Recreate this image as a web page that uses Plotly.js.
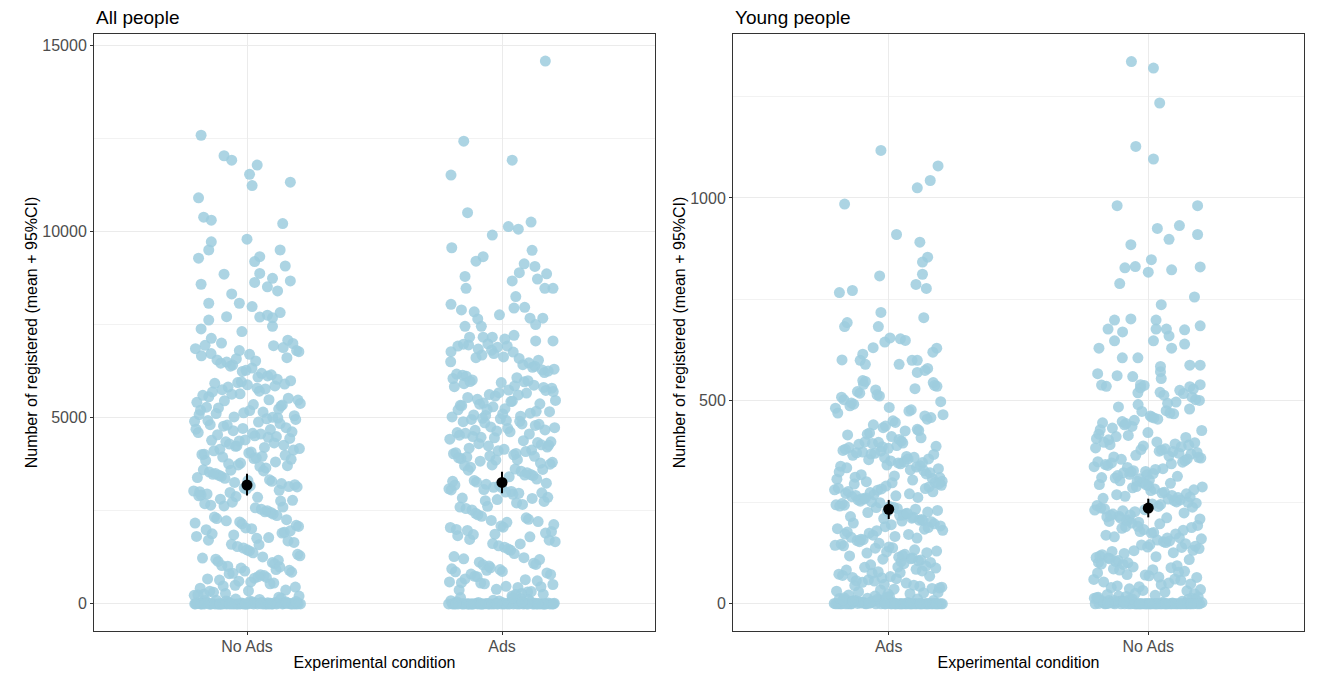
<!DOCTYPE html>
<html>
<head>
<meta charset="utf-8">
<script src="https://cdn.plot.ly/plotly-3.0.1.min.js"></script>
<style>html,body{margin:0;padding:0;background:#fff;}#chart{width:1317px;height:673px;}</style>
</head>
<body>
<div id="chart"></div>
<script>
// ---------- categories ----------
const catsAll = ['No Ads', 'Ads'];
const catsYoung = ['Ads', 'No Ads'];
const panelTitles = ['All people', 'Young people'];
const xTitle = 'Experimental condition';
const yTitle = 'Number of registered (mean + 95%CI)';

// ---------- All people, No Ads ----------
const allNoAdsHigh = [12580,12030,11910,11780,11530,11230,11320,10900,10380,10300,10210,9790,9720,9500,9500,9280,9190,9320,9070,8850,8870,8740,8670,8630,8580,8510,8400,8320,8070,8070,7980,7820,7710,7620,7700,7750,7680,7380,7310,7450,7130,7080,7000,6800,6700];
const allNoAdsHighJit = [-0.18,-0.09,-0.06,0.04,0.01,0.02,0.17,-0.19,-0.17,-0.14,0.14,0.00,-0.14,-0.15,0.13,-0.19,0.03,0.05,0.15,-0.09,0.05,0.10,0.17,0.03,-0.18,0.08,0.12,-0.06,-0.15,-0.03,0.02,0.13,-0.08,-0.15,0.05,0.08,0.10,-0.18,-0.02,0.10,-0.14,0.16,-0.10,-0.03,0.01];
const allNoAdsRest = [
6930,6410,6770,6090,6550,6880,6240,6660,6120,6490,6990,6330,6720,6030,6580,6850,6190,6460,6610,6270,6940,6150,6380,6800,6520,
5920,5310,5640,5080,5770,5450,5990,5190,5560,5850,5020,5380,5710,5260,5900,5130,5600,5480,5820,5050,5350,5690,5230,5940,5410,5150,5750,5520,5880,5280,5010,5630,5470,5790,5110,5340,5960,5200,
4970,4350,4620,4080,4810,4490,4230,4900,4560,4150,4730,4400,4020,4680,4290,4950,4510,4110,4840,4370,4600,4200,4770,4440,4050,4920,4320,4650,4170,4880,4540,4260,4710,4010,4470,4800,4130,4580,4390,4990,4240,4690,
3960,3420,3710,3080,3850,3290,3590,3140,3920,3500,3230,3780,3010,3650,3370,3880,3170,3540,3810,3260,3030,3690,3450,3990,3110,3600,3330,3760,3200,3900,3480,3050,3730,3390,3570,3940,3150,3310,
2950,2410,2730,2080,2860,2290,2600,2150,2920,2500,2230,2780,2020,2650,2370,2880,2170,2540,2810,2260,2040,2690,2450,2990,2110,2580,2330,2760,2200,2900,2470,2630,
1960,1420,1710,1080,1850,1290,1590,1140,1920,1500,1230,1780,1010,1650,1370,1880,1170,1540,1810,1260,1030,1690,1450,1990,1110,1600,1330,1760,1200,1900,
960,420,710,280,850,590,340,920,500,230,780,640,370,880,260,540,810,450,690,310,990,610,240,760,480,900,350,670,560,820,210,730,
0,12,5,0,30,0,8,60,0,15,0,3,45,0,20,0,90,0,7,0,25,0,150,0,10,0,2,0,70,0,35,0,0,120,0,18,0,4,0,55,0,0,9,180,0,28,0,0,14,0,40,0,0,6,0,100,0,22,0,0,80,0,11,0,0,130,0,1,0,50,0,0,16,0,65];

// ---------- All people, Ads ----------
const allAdsHigh = [14570,12420,11910,11510,10500,10130,10060,10250,9900,9560,9490,9200,9320,9130,9060,8790,8670,8860,8890,8720,8470,8470,8470,8250,8040,7940,7960,7890,7840,7650,7760,7670,7670,7500,7450,7450,7160,7160,7160,6770,6920,6970,7210,7110,7060,7060];
const allAdsHighJit = [0.17,-0.15,0.04,-0.20,-0.135,0.025,0.064,0.114,-0.038,-0.197,0.118,-0.102,-0.074,0.087,0.129,-0.145,0.04,0.175,0.068,0.139,0.168,0.20,-0.141,0.054,-0.20,0.047,0.089,-0.159,-0.109,-0.095,-0.01,0.16,0.11,0.132,-0.145,-0.081,-0.127,-0.074,-0.038,-0.20,-0.173,-0.151,0.047,0.011,0.132,0.20];
const allAdsRest = [
6950,6380,6720,6050,6590,6840,6210,6630,6140,6470,6980,6300,6760,6010,6540,6890,6170,6420,6680,6250,6920,6110,6350,6810,6500,6070,6610,6280,
5940,5330,5660,5060,5790,5430,5970,5170,5580,5830,5040,5360,5730,5240,5910,5120,5620,5460,5850,5070,5370,5670,5210,5960,5390,5160,5740,5540,5870,5290,5020,5610,5490,5810,5100,5320,5990,5220,5700,5440,
4950,4330,4640,4060,4830,4470,4210,4920,4580,4130,4750,4420,4040,4660,4270,4970,4530,4090,4860,4350,4620,4180,4790,4460,4030,4900,4300,4670,4150,4890,4560,4240,4730,4000,4490,4820,4110,4600,4380,4980,4260,4710,
3940,3440,3730,3060,3870,3270,3610,3120,3900,3520,3210,3800,3020,3670,3350,3860,3190,3560,3830,3240,3000,3710,3470,3970,3090,3620,3310,3780,3180,3920,3460,3070,3750,3410,3590,3960,3130,3290,
2970,2390,2750,2060,2840,2270,2620,2130,2940,2520,2210,2800,2000,2670,2350,2860,2190,2560,2830,2240,2050,2710,2430,2980,2090,2600,2310,2770,
1940,1440,1730,1060,1870,1270,1610,1120,1900,1520,1210,1800,1020,1670,1350,1860,1190,1560,1830,1240,1050,1710,1470,1970,1090,1620,
940,440,730,260,870,570,320,900,520,210,800,620,390,860,280,560,830,470,670,330,970,590,250,740,460,920,370,650,540,790,
0,0,14,0,6,0,40,0,0,2,110,0,19,0,0,8,0,60,0,0,25,0,3,0,0,85,0,12,0,0,170,0,5,0,33,0,0,9,0,140,0,0,1,0,48,0,0,17,0,0,75,0,4,0,0,22,0,0,95,0,7,0,0,30,0,0,11,0,160,0,0,2,0,52,0];

// ---------- Young people, Ads ----------
const youngAdsHigh = [1117,1079,1043,1025,985,910,891,854,842,812,808,787,777,767,772,718,705,683,693,683,631,645,655,653,649,630,620,601,600,615,590,590,600,600,580,575,570,550,548];
const youngAdsHighJit = [-0.03,0.19,0.16,0.11,-0.17,0.03,0.12,0.15,0.13,0.13,-0.035,0.105,0.145,-0.19,-0.14,-0.03,0.135,-0.17,-0.16,-0.04,-0.06,-0.015,0.005,0.045,0.064,0.185,0.17,-0.18,-0.11,-0.10,-0.09,0.04,0.09,0.11,0.15,0.14,0.11,-0.10,-0.09];
const youngAdsRest = [
545,412,488,430,527,466,401,519,455,438,503,478,421,536,447,492,409,512,470,426,541,459,484,416,530,441,498,405,523,463,434,509,475,418,538,451,495,427,515,482,
396,318,357,342,381,305,369,333,390,312,348,376,325,363,399,309,352,385,337,371,302,345,393,320,360,378,330,355,388,315,366,340,398,307,350,374,323,383,335,361,395,311,347,372,328,387,339,357,301,368,
298,215,262,237,281,204,253,226,290,243,211,274,230,266,295,208,249,285,222,258,202,240,277,233,269,292,218,256,284,210,247,271,225,299,238,264,206,280,244,219,259,288,228,272,213,251,296,235,267,205,283,241,223,261,276,
195,118,162,137,181,104,153,126,190,143,111,174,130,166,199,108,149,185,122,158,102,140,177,133,169,192,115,156,184,110,147,171,125,197,138,164,106,180,144,119,159,188,128,172,113,
96,28,62,45,81,34,73,51,90,38,67,22,85,56,41,77,30,93,48,70,25,59,88,36,65,43,79,31,99,53,68,24,83,46,75,39,91,57,27,64,
0,3,0,8,0,0,12,0,1,0,5,0,0,15,0,2,0,0,7,0,10,0,0,4,0,18,0,0,6,0,0,1,0,9,0,0,14,0,3,0,0,11,0,0,2,0,16,0,0,5,0,0,8,0,0,13,0,1,0,0,6,0,19,0,0,4,0,0,10,0,2,0,0,7,0];

// ---------- Young people, No Ads ----------
const youngNoAdsHigh = [1336,1320,1234,1127,1096,981,981,925,932,910,898,885,828,831,848,817,823,830,789,756,737,699,702,677,670,699,677,677,660,675,685,648,648,640,630,630,606,606,585,572,555,588,588,567,539,562,560,540,520,535,540];
const youngNoAdsHighJit = [-0.065,0.02,0.044,-0.048,0.02,-0.12,0.19,0.035,0.12,0.19,0.08,-0.067,-0.09,-0.05,0.012,0.0,0.09,0.20,-0.11,0.178,0.05,-0.13,-0.067,-0.155,-0.099,0.03,0.03,0.07,0.08,0.14,0.20,-0.13,0.02,0.14,0.09,-0.19,-0.10,-0.04,0.047,0.047,0.05,0.16,0.20,-0.195,-0.18,-0.12,-0.06,-0.03,-0.04,0.16,0.20];
const youngNoAdsRest = [
532,418,476,441,509,463,404,497,452,427,521,485,410,538,446,470,415,503,458,433,526,491,407,514,449,480,422,536,468,437,501,455,412,518,474,429,494,444,529,460,
392,314,366,338,379,303,357,326,398,345,319,373,331,362,387,308,350,382,323,369,305,341,394,328,359,376,316,353,389,311,364,336,397,321,347,371,302,384,333,356,391,318,343,375,325,361,399,310,349,380,
294,212,265,238,279,203,251,227,288,245,216,271,232,260,297,207,248,283,221,256,201,242,275,229,263,291,214,254,286,209,240,269,224,299,236,258,205,281,246,218,262,289,231,273,211,250,293,234,267,219,
193,116,165,139,178,102,151,124,188,146,113,172,131,160,197,107,148,183,121,155,101,142,176,129,163,191,114,153,186,109,140,169,126,199,136,157,104,181,145,118,162,190,132,174,111,
94,26,60,47,83,32,71,54,89,37,65,21,86,58,42,76,29,97,49,69,23,61,91,35,66,44,80,33,98,51,72,25,84,40,78,
0,0,4,0,11,0,0,2,0,17,0,0,6,0,1,0,0,13,0,8,0,0,3,0,19,0,0,5,0,0,10,0,2,0,0,15,0,7,0,0,1,0,12,0,0,4,0,0,9,0,18,0,0,3,0,0,14,0,6,0,0,2,0,11,0,0,8,0,0,16,0,5,0,0,1];

// ---------- means and 95% CI ----------
const allMeans = [3190, 3260];
const allCILow = [2910, 2970];
const allCIHigh = [3490, 3550];
const youngMeans = [233, 236];
const youngCILow = [209, 213];
const youngCIHigh = [256, 259];

// ---------- build traces ----------
function spread(i, seed) { // deterministic jitter for the dense points (layout only)
  return (((i + 1) * 0.6180339887 + seed) % 1) * 0.42 - 0.21;
}
function groupTrace(pos, high, highJit, rest, seed, xa, ya) {
  const xs = [], ys = [];
  rest.forEach((v, i) => { xs.push(pos + spread(i, seed)); ys.push(v); });
  high.forEach((v, i) => { xs.push(pos + highJit[i]); ys.push(v); });
  return {
    type: 'scatter', mode: 'markers', x: xs, y: ys, xaxis: xa, yaxis: ya,
    marker: { color: 'rgba(158,204,222,0.85)', size: 11, line: { width: 0 } },
    hoverinfo: 'skip', showlegend: false
  };
}
function meanTrace(means, lo, hi, xa, ya) {
  return {
    type: 'scatter', mode: 'markers', x: [1, 2], y: means, xaxis: xa, yaxis: ya,
    marker: { color: '#000', size: 11 },
    error_y: { type: 'data', symmetric: false,
      array: means.map((m, i) => hi[i] - m), arrayminus: means.map((m, i) => m - lo[i]),
      color: '#000', thickness: 2, width: 0 },
    hoverinfo: 'skip', showlegend: false
  };
}

const traces = [
  groupTrace(1, allNoAdsHigh, allNoAdsHighJit, allNoAdsRest, 0.13, 'x', 'y'),
  groupTrace(2, allAdsHigh, allAdsHighJit, allAdsRest, 0.57, 'x', 'y'),
  groupTrace(1, youngAdsHigh, youngAdsHighJit, youngAdsRest, 0.29, 'x2', 'y2'),
  groupTrace(2, youngNoAdsHigh, youngNoAdsHighJit, youngNoAdsRest, 0.81, 'x2', 'y2'),
  meanTrace(allMeans, allCILow, allCIHigh, 'x', 'y'),
  meanTrace(youngMeans, youngCILow, youngCIHigh, 'x2', 'y2')
];

const W = 1317, H = 673;
const font = 'Liberation Sans, Arial, sans-serif';
const yDom = [(H - 631) / H, (H - 34) / H];
function xAxis(dom, cats, anchor) {
  return {
    domain: dom, anchor: anchor, range: [0.4, 2.6], tickvals: [1, 2], ticktext: cats,
    showgrid: true, gridcolor: '#ebebeb', gridwidth: 1, zeroline: false,
    showline: true, mirror: true, linecolor: '#333', linewidth: 1,
    ticks: 'outside', ticklen: 3, tickcolor: '#333', tickwidth: 1, ticklabelstandoff: -2,
    tickfont: { family: font, size: 16, color: '#4d4d4d' },
    title: { text: xTitle, font: { family: font, size: 16, color: '#000' }, standoff: 2 },
    automargin: false, fixedrange: true
  };
}
function yAxis(range, dtick, minor, anchor) {
  return {
    domain: yDom, anchor: anchor, range: range, tick0: 0, dtick: dtick, tickformat: 'd',
    showgrid: true, gridcolor: '#ebebeb', gridwidth: 1, zeroline: false,
    minor: { tick0: 0, dtick: minor, showgrid: true, gridcolor: '#f2f2f2', gridwidth: 1, ticks: '' },
    showline: true, mirror: true, linecolor: '#333', linewidth: 1,
    ticks: 'outside', ticklen: 3, tickcolor: '#333', tickwidth: 1,
    tickfont: { family: font, size: 16, color: '#4d4d4d' },
    title: { text: yTitle, font: { family: font, size: 16, color: '#000' }, standoff: 0 },
    automargin: false, fixedrange: true
  };
}

const layout = {
  width: W, height: H, margin: { l: 0, r: 0, t: 0, b: 0 },
  paper_bgcolor: '#fff', plot_bgcolor: '#fff', showlegend: false,
  xaxis: xAxis([94 / W, 655 / W], catsAll, 'y'),
  yaxis: yAxis([-728, 15298], 5000, 2500, 'x'),
  xaxis2: xAxis([733 / W, 1304 / W], catsYoung, 'y2'),
  yaxis2: yAxis([-67, 1404], 500, 250, 'x2'),
  annotations: [
    { text: panelTitles[0], xref: 'paper', yref: 'paper', x: 94 / W, y: 1 - 17 / H, xanchor: 'left', yanchor: 'middle', showarrow: false, font: { family: font, size: 19, color: '#000' } },
    { text: panelTitles[1], xref: 'paper', yref: 'paper', x: 733 / W, y: 1 - 17 / H, xanchor: 'left', yanchor: 'middle', showarrow: false, font: { family: font, size: 19, color: '#000' } }
  ]
};

Plotly.newPlot('chart', traces, layout, { displayModeBar: false, staticPlot: true });
</script>
</body>
</html>
